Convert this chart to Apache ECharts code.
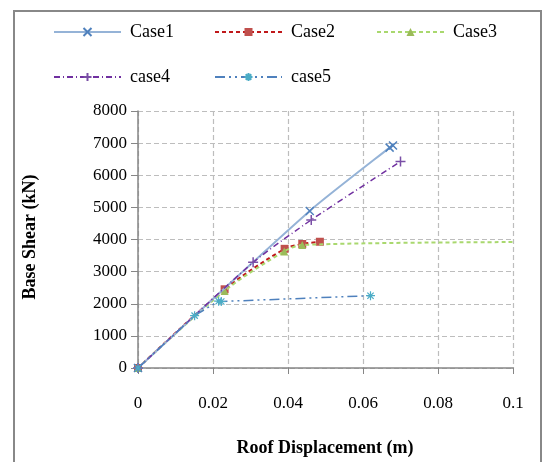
<!DOCTYPE html>
<html><head><meta charset="utf-8">
<script src="https://cdn.jsdelivr.net/npm/echarts@6/dist/echarts.min.js"></script>
<style>html,body{margin:0;padding:0;background:#fff}#c{width:543px;height:462px}</style>
</head><body><div id="c"></div>
<script>
const seriesNames = ['Case1','Case2','Case3','case4','case5'];
const case1 = [[0,0],[0.0458,4890],[0.0671,6860],[0.068,6925]];
const case2 = [[0,0],[0.0231,2450],[0.0391,3710],[0.0438,3860],[0.0485,3930]];
const case3 = [[0,0],[0.0231,2400],[0.039,3630],[0.0438,3830],[0.1,3920]];
const case4 = [[0,0],[0.0307,3290],[0.0462,4610],[0.070,6430]];
const case5 = [[0,0],[0.0151,1630],[0.0215,2080],[0.0222,2070],[0.062,2250]];
const xTicks = ['0','0.02','0.04','0.06','0.08','0.1'];
const yTicks = ['0','1000','2000','3000','4000','5000','6000','7000','8000'];

const FONT = '"Liberation Serif", "Times New Roman", serif';
const symX = 'path://M0,0L10,10M10,0L0,10';
const symPlus = 'path://M5,0L5,10M0,5L10,5';
const symStar = 'path://M5,0L5,10M0,5L10,5M1.5,1.5L8.5,8.5M8.5,1.5L1.5,8.5';

const chart = echarts.init(document.getElementById('c'));
const legendPos = [[53,23],[214,23],[376,23],[53,68],[214,68]];
const legends = seriesNames.map((n,i)=>({
  data:[n], left:legendPos[i][0], top:legendPos[i][1], padding:0, itemWidth:67, itemHeight:10,
  textStyle:{fontFamily:FONT,fontSize:18,color:'#000',padding:[0,0,0,4]},
  selectedMode:false
}));
chart.setOption({
  animation:false,
  legend: legends,
  graphic:[
    {type:'rect',shape:{x:14,y:11,width:527,height:480},style:{fill:'none',stroke:'#888',lineWidth:2},z:-1},
    {type:'text',x:325,y:448,style:{text:'Roof Displacement (m)',font:'bold 18px '+FONT,fill:'#000',textAlign:'center',textVerticalAlign:'middle'}},
    {type:'text',rotation:Math.PI/2,x:30,y:237,style:{text:'Base Shear (kN)',font:'bold 18px '+FONT,fill:'#000',textAlign:'center',textVerticalAlign:'middle'}}
  ],
  grid:{left:138,right:30,top:111,bottom:94},
  xAxis:{type:'value',min:0,max:0.1,interval:0.02,
    axisLine:{show:true,onZero:false,lineStyle:{color:'#868686',width:1.5}},
    axisTick:{show:true,length:6,lineStyle:{color:'#868686'}},
    axisLabel:{margin:27,fontFamily:FONT,fontSize:17,color:'#000',formatter:(v)=>xTicks[Math.round(v/0.02)]},
    splitLine:{show:true,lineStyle:{color:'#bdbdbd',type:[5,3],width:1.2}}},
  yAxis:{type:'value',min:0,max:8000,interval:1000,
    axisLine:{show:true,lineStyle:{color:'#868686',width:1.5}},
    axisTick:{show:true,length:7,lineStyle:{color:'#868686'}},
    axisLabel:{margin:11,fontFamily:FONT,fontSize:17,color:'#000',formatter:(v)=>yTicks[Math.round(v/1000)]},
    splitLine:{show:true,lineStyle:{color:'#bdbdbd',type:[5,3],width:1.2}}},
  series:[
    {name:'Case1',type:'line',data:case1,smooth:0.2,symbol:symX,symbolSize:8,
      lineStyle:{color:'#95b3d7',width:2},itemStyle:{color:'rgba(0,0,0,0)',borderColor:'#4f81bd',borderWidth:1.5},z:5},
    {name:'Case2',type:'line',data:case2,smooth:0.3,symbol:'rect',symbolSize:8,
      lineStyle:{color:'#c0181a',width:2,type:[4,3]},itemStyle:{color:'#c0504d'},z:3},
    {name:'Case3',type:'line',smooth:0.3,symbol:'triangle',symbolSize:8,
      data:case3.map((p,i)=>i===case3.length-1?{value:p,symbol:'none'}:p),
      lineStyle:{color:'#a9d86e',width:2,type:[4,3]},itemStyle:{color:'#9bbb59'},z:4},
    {name:'case4',type:'line',data:case4,smooth:0.2,symbol:symPlus,symbolSize:10,
      lineStyle:{color:'#7030a0',width:1.5,type:[6,3,1,3]},itemStyle:{color:'rgba(0,0,0,0)',borderColor:'#7a4fa6',borderWidth:1.5},z:6},
    {name:'case5',type:'line',data:case5,symbol:symStar,symbolSize:9,
      lineStyle:{color:'#4f81bd',width:1.5,type:[10,4,2,4,2,4]},itemStyle:{color:'rgba(0,0,0,0)',borderColor:'#4bacc6',borderWidth:1.2},z:7}
  ]
});
</script></body></html>
